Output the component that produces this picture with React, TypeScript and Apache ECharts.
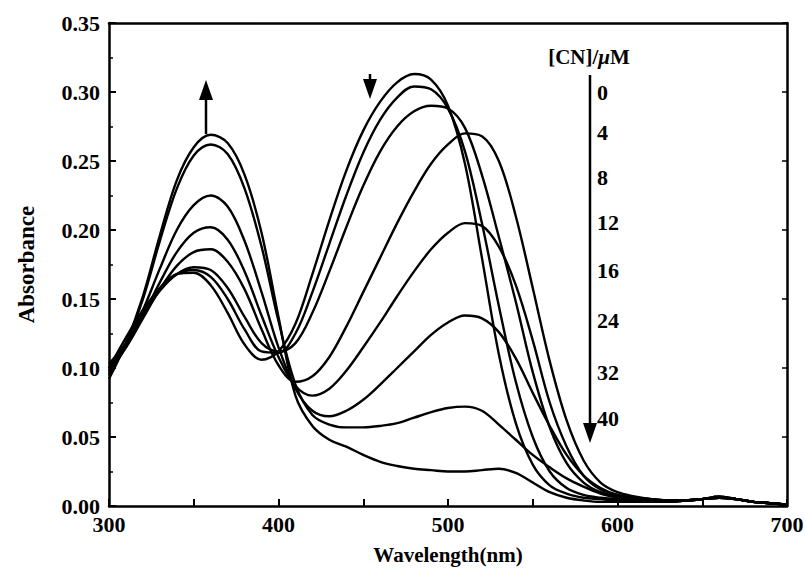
import React, { useEffect, useRef } from "react";
import * as echarts from "echarts";

const wavelengths = [
  300, 310, 320, 330, 340, 350, 360, 370, 380, 390, 400, 410, 420, 430, 440, 450, 460, 470, 480, 490,
  500, 510, 520, 530, 540, 550, 560, 570, 580, 590, 600, 610, 620, 630, 640, 650, 660, 670, 680, 690, 700,
];

const concLabels = ["0", "4", "8", "12", "16", "24", "32", "40"];

const abs0 = [0.100, 0.122, 0.142, 0.158, 0.168, 0.169, 0.160, 0.140, 0.117, 0.106, 0.112, 0.132, 0.168, 0.207, 0.243, 0.272, 0.293, 0.307, 0.313, 0.309, 0.290, 0.248, 0.180, 0.110, 0.060, 0.030, 0.015, 0.009, 0.006, 0.005, 0.004, 0.004, 0.003, 0.003, 0.004, 0.005, 0.006, 0.005, 0.003, 0.002, 0.001];
const abs4 = [0.098, 0.118, 0.140, 0.157, 0.168, 0.171, 0.166, 0.150, 0.128, 0.112, 0.111, 0.125, 0.155, 0.190, 0.225, 0.256, 0.280, 0.296, 0.304, 0.302, 0.288, 0.257, 0.205, 0.145, 0.090, 0.050, 0.025, 0.013, 0.008, 0.006, 0.005, 0.004, 0.003, 0.003, 0.004, 0.005, 0.006, 0.005, 0.003, 0.002, 0.001];
const abs8 = [0.097, 0.115, 0.138, 0.156, 0.168, 0.173, 0.171, 0.158, 0.137, 0.118, 0.112, 0.118, 0.140, 0.170, 0.202, 0.232, 0.257, 0.275, 0.286, 0.290, 0.288, 0.274, 0.240, 0.195, 0.148, 0.097, 0.057, 0.031, 0.017, 0.010, 0.007, 0.005, 0.004, 0.004, 0.004, 0.005, 0.007, 0.005, 0.003, 0.002, 0.001];
const abs12 = [0.100, 0.115, 0.136, 0.157, 0.174, 0.184, 0.186, 0.177, 0.157, 0.128, 0.102, 0.090, 0.094, 0.108, 0.130, 0.155, 0.180, 0.205, 0.228, 0.248, 0.262, 0.270, 0.268, 0.250, 0.210, 0.158, 0.105, 0.062, 0.033, 0.017, 0.010, 0.007, 0.005, 0.004, 0.004, 0.005, 0.007, 0.005, 0.003, 0.002, 0.001];
const abs16 = [0.103, 0.118, 0.138, 0.162, 0.184, 0.198, 0.202, 0.193, 0.170, 0.138, 0.108, 0.087, 0.080, 0.085, 0.098, 0.115, 0.133, 0.152, 0.170, 0.186, 0.198, 0.205, 0.203, 0.188, 0.160, 0.120, 0.075, 0.043, 0.022, 0.012, 0.008, 0.006, 0.005, 0.004, 0.004, 0.005, 0.006, 0.005, 0.003, 0.002, 0.001];
const abs24 = [0.100, 0.118, 0.142, 0.172, 0.200, 0.218, 0.225, 0.217, 0.192, 0.155, 0.115, 0.085, 0.069, 0.065, 0.069, 0.077, 0.088, 0.100, 0.112, 0.124, 0.133, 0.138, 0.136, 0.126, 0.107, 0.082, 0.058, 0.037, 0.022, 0.013, 0.008, 0.006, 0.005, 0.004, 0.004, 0.005, 0.006, 0.005, 0.003, 0.002, 0.001];
const abs32 = [0.095, 0.118, 0.150, 0.192, 0.230, 0.254, 0.262, 0.255, 0.230, 0.188, 0.134, 0.088, 0.066, 0.059, 0.057, 0.057, 0.058, 0.060, 0.064, 0.068, 0.071, 0.072, 0.069, 0.059, 0.048, 0.037, 0.028, 0.020, 0.014, 0.009, 0.006, 0.004, 0.004, 0.003, 0.004, 0.005, 0.006, 0.005, 0.003, 0.002, 0.001];
const abs40 = [0.092, 0.118, 0.152, 0.196, 0.236, 0.260, 0.269, 0.263, 0.240, 0.198, 0.137, 0.080, 0.058, 0.048, 0.043, 0.037, 0.032, 0.029, 0.027, 0.026, 0.025, 0.025, 0.026, 0.027, 0.024, 0.017, 0.010, 0.006, 0.004, 0.003, 0.003, 0.003, 0.003, 0.003, 0.004, 0.005, 0.006, 0.005, 0.003, 0.002, 0.001];

const allSeries = [abs0, abs4, abs8, abs12, abs16, abs24, abs32, abs40];

const FONT = "'Liberation Serif', 'Times New Roman', serif";

export default function App() {
  const ref = useRef<HTMLDivElement>(null);

  useEffect(() => {
    if (!ref.current) return;
    const chart = echarts.init(ref.current, undefined, { renderer: "svg" });

    const axisLineStyle = { color: "#000", width: 2.5 };
    const labelStyle = { color: "#000", fontSize: 22, fontWeight: "bold" as const, fontFamily: FONT };

    const legendYs = [92, 132, 177, 222, 270, 320, 372, 418];
    const arrowHead = (x: number, tipY: number, dir: number) => ({
      type: "polygon",
      shape: { points: [[x - 7, tipY - dir * 20], [x + 7, tipY - dir * 20], [x, tipY]] },
      style: { fill: "#000" },
    });

    const option: any = {
      animation: false,
      backgroundColor: "#fff",
      grid: { left: 109, right: 19, top: 23, bottom: 74, containLabel: false, outerBoundsMode: "none" },
      xAxis: [
        {
          type: "value",
          min: 300,
          max: 700,
          interval: 100,
          position: "bottom",
          axisLine: { show: true, onZero: false, lineStyle: axisLineStyle },
          axisTick: { show: true, inside: true, length: 7, lineStyle: { color: "#000", width: 2 } },
          minorTick: { show: true, splitNumber: 2, length: 7, lineStyle: { color: "#000", width: 2 } },
          axisLabel: { ...labelStyle, margin: 7 },
          splitLine: { show: false },
          name: "Wavelength(nm)",
          nameLocation: "middle",
          nameGap: 38,
          nameTextStyle: { ...labelStyle, fontSize: 21 },
        },
        {
          type: "value",
          min: 300,
          max: 700,
          interval: 100,
          position: "top",
          axisLine: { show: true, onZero: false, lineStyle: axisLineStyle },
          axisTick: { show: false },
          axisLabel: { show: false },
          splitLine: { show: false },
        },
      ],
      yAxis: [
        {
          type: "value",
          min: 0,
          max: 0.35,
          interval: 0.05,
          position: "left",
          axisLine: { show: true, onZero: false, lineStyle: axisLineStyle },
          axisTick: { show: true, inside: true, length: 7, lineStyle: { color: "#000", width: 2 } },
          minorTick: { show: true, splitNumber: 2, length: 4, lineStyle: { color: "#000", width: 1.5 } },
          axisLabel: { ...labelStyle, margin: 9, formatter: (v: number) => v.toFixed(2) },
          splitLine: { show: false },
          name: "Absorbance",
          nameLocation: "middle",
          nameGap: 71,
          nameTextStyle: { ...labelStyle, fontSize: 23 },
        },
        {
          type: "value",
          min: 0,
          max: 0.35,
          interval: 0.05,
          position: "right",
          axisLine: { show: true, onZero: false, lineStyle: axisLineStyle },
          axisTick: { show: true, inside: true, length: 5, lineStyle: { color: "#000", width: 1.5 } },
          axisLabel: { show: false },
          splitLine: { show: false },
        },
      ],
      series: allSeries.map((vals, k) => ({
        name: concLabels[k] + " μM",
        type: "line",
        xAxisIndex: 0,
        yAxisIndex: 0,
        smooth: 0.35,
        showSymbol: false,
        symbol: "none",
        lineStyle: { color: "#000", width: 2.4 },
        data: wavelengths.map((w, i) => [w, vals[i]]),
      })),
      graphic: [
        {
          type: "text",
          x: 589,
          y: 57,
          style: {
            text: "{a|[CN]/}{b|μ}{a|M}",
            align: "center",
            verticalAlign: "middle",
            rich: {
              a: { fontSize: 21, fontWeight: "bold", fontFamily: FONT, fill: "#000" },
              b: { fontSize: 21, fontWeight: "bold", fontStyle: "italic", fontFamily: FONT, fill: "#000" },
            },
          },
        },
        ...concLabels.map((t, i) => ({
          type: "text",
          x: 597,
          y: legendYs[i],
          style: {
            text: t,
            align: "left",
            verticalAlign: "middle",
            fontSize: 22,
            fontWeight: "bold",
            fontFamily: FONT,
            fill: "#000",
          },
        })),
        { type: "line", shape: { x1: 590, y1: 75, x2: 590, y2: 426 }, style: { stroke: "#000", lineWidth: 2.5 } },
        arrowHead(590, 443, 1),
        { type: "line", shape: { x1: 206, y1: 134, x2: 206, y2: 95 }, style: { stroke: "#000", lineWidth: 2.5 } },
        arrowHead(206, 80, -1),
        { type: "line", shape: { x1: 370, y1: 74, x2: 370, y2: 84 }, style: { stroke: "#000", lineWidth: 2.5 } },
        arrowHead(370, 99, 1),
      ],
    };

    chart.setOption(option);
    return () => chart.dispose();
  }, []);

  return (
    <div
      ref={ref}
      style={{ position: "absolute", left: 0, top: 0, width: 806, height: 580, background: "#fff" }}
    />
  );
}
